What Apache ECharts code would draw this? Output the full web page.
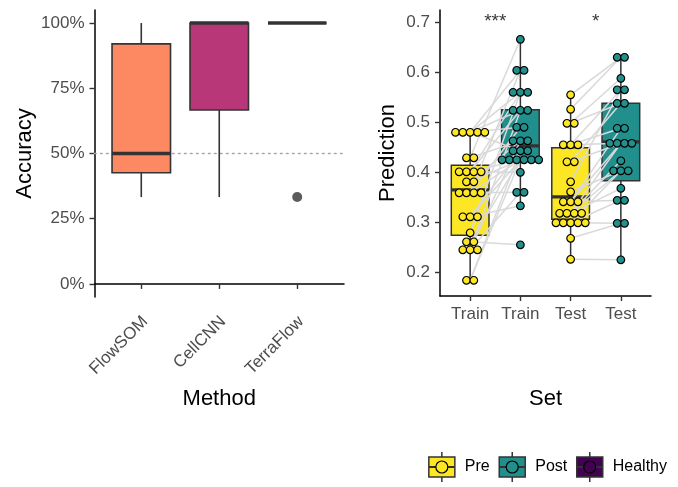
<!DOCTYPE html>
<html>
<head>
<meta charset="utf-8">
<script src="https://cdn.jsdelivr.net/npm/echarts@6/dist/echarts.min.js"></script>
<style>
  html, body { margin: 0; padding: 0; background: #ffffff; }
  #chart { width: 678px; height: 487px; }
</style>
</head>
<body>
<div id="chart"></div>
<script>
// ---- Accuracy by method (left panel) ----
const methods = ['FlowSOM', 'CellCNN', 'TerraFlow'];
const methodColors = ['#FC8961', '#B73779', '#51127C'];
// box statistics per method: [lower whisker, Q1, median, Q3, upper whisker]
const accuracyStats = [
  [0.333, 0.426, 0.5, 0.92, 1.0],
  [0.333, 0.667, 1.0, 1.0, 1.0],
  [1.0, 1.0, 1.0, 1.0, 1.0]
];
const accuracyOutliers = [[], [], [0.333]];
const accuracyTicks = [0, 0.25, 0.5, 0.75, 1];
const chanceLevel = 0.5;

// ---- Prediction by set and time point (right panel) ----
const setLabels = ['Train', 'Train', 'Test', 'Test'];
const groupNames = ['Pre', 'Post', 'Healthy'];
const groupColors = ['#FDE725', '#21908C', '#440154'];
const setGroup = [0, 1, 0, 1];
const predStats = [
  [0.184, 0.274, 0.365, 0.414, 0.480],
  [0.333, 0.425, 0.453, 0.525, 0.666],
  [0.225, 0.306, 0.351, 0.449, 0.555],
  [0.225, 0.383, 0.461, 0.538, 0.630]
];
const predTicks = [0.2, 0.3, 0.4, 0.5, 0.6, 0.7];

// paired samples (same index = same subject)
const trainPre = [0.48, 0.48, 0.48, 0.48, 0.48, 0.429, 0.429, 0.401, 0.401, 0.401, 0.401,
  0.381, 0.381, 0.359, 0.359, 0.359, 0.359, 0.311, 0.311, 0.311, 0.279, 0.261, 0.261,
  0.245, 0.245, 0.245, 0.184, 0.184];
const trainPost = [0.524, 0.56, 0.49, 0.443, 0.604, 0.666, 0.463, 0.425, 0.56, 0.40, 0.524,
  0.425, 0.463, 0.36, 0.604, 0.425, 0.49, 0.333, 0.443, 0.425, 0.56, 0.255, 0.425,
  0.36, 0.463, 0.524, 0.443, 0.425];
const testPre = [0.555, 0.526, 0.498, 0.498, 0.455, 0.455, 0.455, 0.421, 0.421, 0.381, 0.361,
  0.341, 0.341, 0.341, 0.318, 0.318, 0.318, 0.318, 0.299, 0.299, 0.299, 0.268, 0.226,
  0.299, 0.299];
const testPost = [0.63, 0.63, 0.588, 0.538, 0.565, 0.458, 0.488, 0.538, 0.458, 0.565, 0.403,
  0.458, 0.488, 0.344, 0.458, 0.403, 0.423, 0.368, 0.403, 0.344, 0.298, 0.298, 0.225];

const sigLabels = ['***', '*'];
const sigX = [1.5, 3.5];
const sigY = 0.702;

// ---- styling constants ----
const FONT = "'Liberation Sans', Arial, sans-serif";
const INK = '#333333';
const TICK_TEXT = '#4D4D4D';
const TICK_SIZE = 17;
const TITLE_SIZE = 22;
const DOT_STEP = 0.146;      // horizontal spacing of stacked dots, in x units
const ROT_LABEL_SHIFT = 0.05; // nudges rotated labels so their upper-right corner meets the tick

const setValues = [trainPre, trainPost, testPre, testPost];

// box glyph drawn through the axis scales
function boxRenderer(colors, lineW, medianW) {
  return function (params, api) {
    const x = api.value(0);
    const lo = api.coord([x, api.value(1)]);
    const q1 = api.coord([x, api.value(2)]);
    const md = api.coord([x, api.value(3)]);
    const q3 = api.coord([x, api.value(4)]);
    const hi = api.coord([x, api.value(5)]);
    const w = api.size([0.75, 0])[0];
    const cx = lo[0];
    const fill = colors[api.value(6)];
    return {
      type: 'group',
      children: [
        { type: 'line', shape: { x1: cx, y1: hi[1], x2: cx, y2: q3[1] }, style: { stroke: INK, lineWidth: lineW } },
        { type: 'line', shape: { x1: cx, y1: q1[1], x2: cx, y2: lo[1] }, style: { stroke: INK, lineWidth: lineW } },
        { type: 'rect', shape: { x: cx - w / 2, y: q3[1], width: w, height: q1[1] - q3[1] },
          style: { fill: fill, stroke: INK, lineWidth: lineW } },
        { type: 'line', shape: { x1: cx - w / 2, y1: md[1], x2: cx + w / 2, y2: md[1] },
          style: { stroke: INK, lineWidth: medianW } }
      ]
    };
  };
}

// straight segment between two data points
function segmentRenderer(style) {
  return function (params, api) {
    const a = api.coord([api.value(0), api.value(1)]);
    const b = api.coord([api.value(2), api.value(3)]);
    return { type: 'line', shape: { x1: a[0], y1: a[1], x2: b[0], y2: b[1] }, style: style };
  };
}

// centred dot stacks: identical values share a row
function dotStack(xCenter, values) {
  const rows = new Map();
  values.forEach(v => { rows.set(v, (rows.get(v) || 0) + 1); });
  const out = [];
  rows.forEach((n, v) => {
    for (let k = 0; k < n; k++) out.push([xCenter + (k - (n - 1) / 2) * DOT_STEP, v]);
  });
  return out;
}

const accBoxData = accuracyStats.map((s, i) => [i + 1].concat(s).concat([i]));
const accOutlierData = [];
accuracyOutliers.forEach((arr, i) => arr.forEach(v => accOutlierData.push([i + 1, v])));

const predBoxData = predStats.map((s, i) => [i + 1].concat(s).concat([setGroup[i]]));

const pairData = [];
[[0, 1], [2, 3]].forEach(([a, b]) => {
  const n = Math.min(setValues[a].length, setValues[b].length);
  for (let i = 0; i < n; i++) pairData.push([a + 1, setValues[a][i], b + 1, setValues[b][i]]);
});

const dotSeries = setValues.map((vals, i) => ({
  type: 'scatter',
  xAxisIndex: 1, yAxisIndex: 1,
  data: dotStack(i + 1, vals),
  symbol: 'circle',
  symbolSize: 7.6,
  itemStyle: { color: groupColors[setGroup[i]], borderColor: '#000000', borderWidth: 1.2, opacity: 1 },
  z: 4,
  silent: true
}));

const axisLineStyle = { show: true, lineStyle: { color: '#000000', width: 1.5 } };
const tickStyle = { show: true, length: 5, lineStyle: { color: INK, width: 1.4 } };
const methodPositions = methods.map((m, i) => i + 1);
const setPositions = setLabels.map((s, i) => i + 1);

const option = {
  animation: false,
  backgroundColor: '#ffffff',
  textStyle: { fontFamily: FONT },
  grid: [
    { left: 94.5, top: 10, width: 249.5, height: 287 },
    { left: 440, top: 10, width: 211, height: 286 }
  ],
  xAxis: [
    {
      gridIndex: 0, type: 'value', min: 0.4, max: 3.6,
      axisLine: axisLineStyle,
      axisTick: Object.assign({ customValues: methodPositions }, tickStyle),
      axisLabel: {
        customValues: methodPositions.map(p => p + ROT_LABEL_SHIFT), rotate: 45, margin: 22,
        formatter: v => methods[Math.round(v) - 1],
        fontSize: TICK_SIZE, color: TICK_TEXT, fontFamily: FONT
      },
      splitLine: { show: false },
      name: 'Method', nameLocation: 'middle', nameGap: 91,
      nameTextStyle: { fontSize: TITLE_SIZE, color: '#000000', fontFamily: FONT }
    },
    {
      gridIndex: 1, type: 'value', min: 0.4, max: 4.6,
      axisLine: axisLineStyle,
      axisTick: Object.assign({ customValues: setPositions }, tickStyle),
      axisLabel: {
        customValues: setPositions, margin: 10,
        formatter: v => setLabels[Math.round(v) - 1],
        fontSize: TICK_SIZE, color: TICK_TEXT, fontFamily: FONT
      },
      splitLine: { show: false },
      name: 'Set', nameLocation: 'middle', nameGap: 92,
      nameTextStyle: { fontSize: TITLE_SIZE, color: '#000000', fontFamily: FONT }
    }
  ],
  yAxis: [
    {
      gridIndex: 0, type: 'value', min: -0.05, max: 1.05,
      axisLine: axisLineStyle,
      axisTick: Object.assign({ customValues: accuracyTicks }, tickStyle),
      axisLabel: {
        customValues: accuracyTicks, margin: 10,
        formatter: v => Math.round(v * 100) + '%',
        fontSize: TICK_SIZE, color: TICK_TEXT, fontFamily: FONT
      },
      splitLine: { show: false },
      name: 'Accuracy', nameLocation: 'middle', nameGap: 59,
      nameTextStyle: { fontSize: TITLE_SIZE, color: '#000000', fontFamily: FONT }
    },
    {
      gridIndex: 1, type: 'value', min: 0.1526, max: 0.7246,
      axisLine: axisLineStyle,
      axisTick: Object.assign({ customValues: predTicks }, tickStyle),
      axisLabel: {
        customValues: predTicks, margin: 10,
        formatter: v => v.toFixed(1),
        fontSize: TICK_SIZE, color: TICK_TEXT, fontFamily: FONT
      },
      splitLine: { show: false },
      name: 'Prediction', nameLocation: 'middle', nameGap: 41,
      nameTextStyle: { fontSize: TITLE_SIZE, color: '#000000', fontFamily: FONT }
    }
  ],
  series: [
    {
      type: 'custom', xAxisIndex: 0, yAxisIndex: 0, z: 1, silent: true,
      renderItem: segmentRenderer({ stroke: '#A6A6A6', lineWidth: 1.6, lineDash: [1.6, 4.4], lineCap: 'round' }),
      encode: { x: [0, 2], y: [1, 3] },
      data: [[0.4, chanceLevel, 3.6, chanceLevel]]
    },
    {
      type: 'custom', xAxisIndex: 0, yAxisIndex: 0, z: 2, silent: true,
      renderItem: boxRenderer(methodColors, 1.6, 3.6),
      encode: { x: 0, y: [1, 2, 3, 4, 5] },
      data: accBoxData
    },
    {
      type: 'scatter', xAxisIndex: 0, yAxisIndex: 0, z: 3, silent: true,
      symbol: 'circle', symbolSize: 10,
      itemStyle: { color: INK },
      data: accOutlierData
    },
    {
      type: 'custom', xAxisIndex: 1, yAxisIndex: 1, z: 2, silent: true,
      renderItem: boxRenderer(groupColors, 1.5, 3.2),
      encode: { x: 0, y: [1, 2, 3, 4, 5] },
      data: predBoxData
    },
    {
      type: 'custom', xAxisIndex: 1, yAxisIndex: 1, z: 3, silent: true,
      renderItem: segmentRenderer({ stroke: '#D9D9D9', lineWidth: 1.5 }),
      encode: { x: [0, 2], y: [1, 3] },
      data: pairData
    }
  ].concat(dotSeries).concat([
    {
      type: 'scatter', xAxisIndex: 1, yAxisIndex: 1, z: 5, silent: true,
      symbolSize: 1, itemStyle: { color: 'rgba(0,0,0,0)' },
      label: { show: true, position: 'inside', formatter: '{b}', fontSize: 19, color: '#000000', fontFamily: FONT },
      data: sigLabels.map((t, i) => ({ name: t, value: [sigX[i], sigY] }))
    }
  ])
};

// ---- legend drawn as box-plot keys ----
(function buildLegend() {
  const ctx = document.createElement('canvas').getContext('2d');
  ctx.font = '16px ' + FONT;
  const iconW = 26, iconH = 20, gapIcon = 10, gapItem = 9.5;
  const cy = 467;
  const widths = groupNames.map(n => ctx.measureText(n).width);
  const total = widths.reduce((s, w) => s + iconW + gapIcon + w, 0) + gapItem * (groupNames.length - 1);
  let x = 667 - total;
  const els = [];
  groupNames.forEach((name, i) => {
    const cx = x + iconW / 2;
    els.push({ type: 'line', shape: { x1: cx, y1: cy - 15, x2: cx, y2: cy + 15 }, style: { stroke: INK, lineWidth: 1.5 } });
    els.push({ type: 'rect', shape: { x: x, y: cy - iconH / 2, width: iconW, height: iconH },
      style: { fill: groupColors[i], stroke: INK, lineWidth: 1.5 } });
    els.push({ type: 'line', shape: { x1: x, y1: cy, x2: x + iconW, y2: cy }, style: { stroke: INK, lineWidth: 2 } });
    els.push({ type: 'circle', shape: { cx: cx, cy: cy, r: 6 },
      style: { fill: groupColors[i], stroke: '#000000', lineWidth: 1.2 } });
    els.push({ type: 'text', x: x + iconW + gapIcon, y: cy,
      style: { text: name, fontSize: 16, fontFamily: FONT, fill: '#000000', verticalAlign: 'middle', align: 'left' } });
    x += iconW + gapIcon + widths[i] + gapItem;
  });
  option.graphic = [{ type: 'group', silent: true, children: els }];
})();

const chart = echarts.init(document.getElementById('chart'), null, { renderer: 'canvas' });
chart.setOption(option);
</script>
</body>
</html>
